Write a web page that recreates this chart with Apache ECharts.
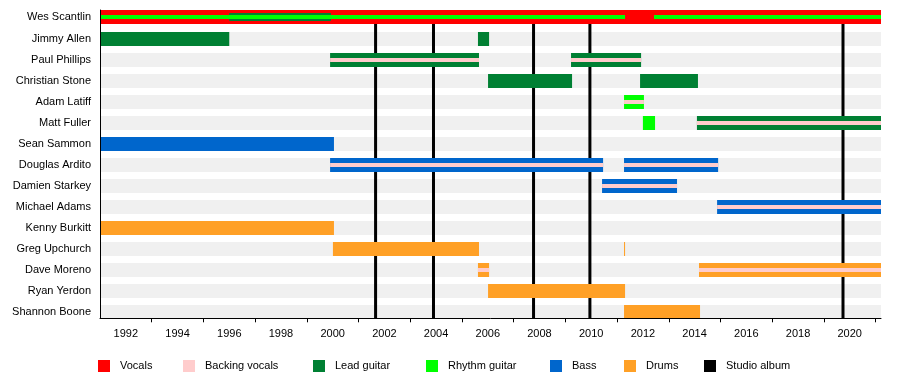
<!DOCTYPE html>
<html>
<head>
<meta charset="utf-8">
<script src="https://cdn.jsdelivr.net/npm/echarts@6/dist/echarts.min.js"></script>
<style>
html,body{margin:0;padding:0;background:#fff;}
#chart{width:900px;height:378px;}
</style>
</head>
<body>
<div id="chart"></div>
<script>
// ---------- data ----------
const START = 1991;
const END = 2021.21;
const members = ['Wes Scantlin','Jimmy Allen','Paul Phillips','Christian Stone','Adam Latiff','Matt Fuller','Sean Sammon','Douglas Ardito','Damien Starkey','Michael Adams','Kenny Burkitt','Greg Upchurch','Dave Moreno','Ryan Yerdon','Shannon Boone'];
const yearLabels = [1992,1994,1996,1998,2000,2002,2004,2006,2008,2010,2012,2014,2016,2018,2020];
const yearTicks = [1993,1995,1997,1999,2001,2003,2005,2007,2009,2011,2013,2015,2017,2019,2021];

const vocals = [['Wes Scantlin', 1991, END]];
const leadGuitar = [
  ['Wes Scantlin', 1996.0, 1999.93],
  ['Jimmy Allen', 1991, 1996.0],
  ['Jimmy Allen', 2005.62, 2006.05],
  ['Paul Phillips', 1999.9, 2005.66],
  ['Paul Phillips', 2009.22, 2011.93],
  ['Christian Stone', 2006.01, 2009.26],
  ['Christian Stone', 2011.89, 2014.13],
  ['Matt Fuller', 2014.09, END]
];
const rhythmGuitar = [
  ['Wes Scantlin', 1991, 2011.31],
  ['Wes Scantlin', 2012.43, END],
  ['Adam Latiff', 2011.27, 2012.04],
  ['Matt Fuller', 2012.0, 2012.47]
];
const bass = [
  ['Sean Sammon', 1991, 2000.05],
  ['Douglas Ardito', 1999.9, 2010.46],
  ['Douglas Ardito', 2011.27, 2014.91],
  ['Damien Starkey', 2010.42, 2013.32],
  ['Michael Adams', 2014.87, END]
];
const drums = [
  ['Kenny Burkitt', 1991, 2000.05],
  ['Greg Upchurch', 2000.01, 2005.66],
  ['Greg Upchurch', 2011.27, 2011.31],
  ['Dave Moreno', 2005.62, 2006.05],
  ['Dave Moreno', 2014.17, END],
  ['Ryan Yerdon', 2006.01, 2011.31],
  ['Shannon Boone', 2011.27, 2014.21]
];
const backingVocals = [
  ['Paul Phillips', 1999.9, 2005.66],
  ['Paul Phillips', 2009.22, 2011.93],
  ['Adam Latiff', 2011.27, 2012.04],
  ['Matt Fuller', 2014.09, END],
  ['Douglas Ardito', 1999.9, 2010.46],
  ['Douglas Ardito', 2011.27, 2014.91],
  ['Damien Starkey', 2010.42, 2013.32],
  ['Michael Adams', 2014.87, END],
  ['Dave Moreno', 2005.62, 2006.05],
  ['Dave Moreno', 2014.17, END]
];
const studioAlbums = [2001.66, 2003.9, 2007.77, 2009.95, 2019.74];

// ---------- styles ----------
const colors = {
  'Vocals': '#ff0000',
  'Backing vocals': '#ffcccc',
  'Lead guitar': '#008033',
  'Rhythm guitar': '#00ff00',
  'Bass': '#0066cc',
  'Drums': '#ffa026',
  'Studio album': '#000000'
};
const FULL = 14;
const Y_MIN = -0.381, Y_MAX = 14.3;
// first (lead singer) row sits slightly apart from the others
const rowPos = i => (i === 0 ? -1 / 21 : i);

function isSinger(name, s, e) {
  return vocals.some(v => v[0] === name && v[1] <= s && v[2] >= e);
}
function thicknessFor(role, name, s, e) {
  if (role === 'Backing vocals') return 4;
  if (role === 'Vocals') return FULL;
  if (isSinger(name, s, e)) return role === 'Lead guitar' ? 8 : 4;
  return FULL;
}
function toData(role, arr) {
  return arr.map(d => [d[1], d[2], rowPos(members.indexOf(d[0])), thicknessFor(role, d[0], d[1], d[2])]);
}
function renderBar(color) {
  return function (params, api) {
    const s = api.value(0), e = api.value(1), r = api.value(2), h = api.value(3);
    const p1 = api.coord([s, r]);
    const p2 = api.coord([e, r]);
    return {
      type: 'rect',
      shape: { x: p1[0], y: p1[1] - h / 2, width: Math.max(p2[0] - p1[0], 1), height: h },
      style: { fill: color }
    };
  };
}
function barSeries(role, arr, z) {
  return {
    name: role, type: 'custom', z: z,
    renderItem: renderBar(colors[role]),
    itemStyle: { color: colors[role] },
    encode: { x: [0, 1], y: 2 },
    data: toData(role, arr),
    silent: true
  };
}

const bgData = members.map((m, i) => [START, END, rowPos(i), FULL]);

const series = [
  {
    name: 'bg', type: 'custom', z: 1, silent: true,
    renderItem: renderBar('#f0f0f0'),
    encode: { x: [0, 1], y: 2 },
    data: bgData
  },
  {
    name: 'Studio album', type: 'custom', z: 2, silent: true,
    itemStyle: { color: '#000' },
    renderItem: function (params, api) {
      const x = api.value(0);
      const a = api.coord([x, Y_MIN]);
      const b = api.coord([x, Y_MAX]);
      return { type: 'rect', shape: { x: a[0] - 1.5, y: a[1], width: 3, height: b[1] - a[1] }, style: { fill: '#000' } };
    },
    encode: { x: 0 },
    data: studioAlbums.map(v => [v])
  },
  barSeries('Vocals', vocals, 3),
  barSeries('Lead guitar', leadGuitar, 4),
  barSeries('Bass', bass, 4),
  barSeries('Drums', drums, 4),
  barSeries('Rhythm guitar', rhythmGuitar, 5),
  barSeries('Backing vocals', backingVocals, 6)
];

const legendItems = [
  ['Vocals', 98], ['Backing vocals', 183], ['Lead guitar', 313], ['Rhythm guitar', 426],
  ['Bass', 550], ['Drums', 624], ['Studio album', 704]
];
const legends = legendItems.map(li => ({
  data: [{ name: li[0], icon: 'rect' }],
  left: li[1], top: 360, padding: 0,
  itemWidth: 12, itemHeight: 12,
  selectedMode: false,
  textStyle: { fontFamily: 'Liberation Sans, Arial, sans-serif', fontSize: 11, color: '#000', padding: [2, 0, 0, 5] }
}));

const chart = echarts.init(document.getElementById('chart'), null, { renderer: 'canvas' });
chart.setOption({
  animation: false,
  backgroundColor: '#fff',
  grid: { left: 100, right: 19, top: 10, bottom: 59.7 },
  xAxis: {
    type: 'value', min: START, max: END, z: 20, position: 'bottom',
    axisLine: { show: true, onZero: false, lineStyle: { color: '#000', width: 1 } },
    axisTick: { show: true, customValues: yearTicks, length: 4, lineStyle: { color: '#000' } },
    axisLabel: { customValues: yearLabels, formatter: v => String(v), margin: 10, fontFamily: 'Liberation Sans, Arial, sans-serif', fontSize: 11, color: '#000' },
    splitLine: { show: false }
  },
  yAxis: {
    type: 'value', inverse: true, min: Y_MIN, max: Y_MAX, z: 20, position: 'left',
    axisLine: { show: true, onZero: false, lineStyle: { color: '#000', width: 1 } },
    axisTick: { show: false },
    axisLabel: {
      customValues: members.map((m, i) => rowPos(i)),
      formatter: v => members[Math.max(0, Math.round(v))],
      margin: 9, fontFamily: 'Liberation Sans, Arial, sans-serif', fontSize: 11, color: '#000'
    },
    splitLine: { show: false }
  },
  legend: legends,
  series: series
});
</script>
</body>
</html>
